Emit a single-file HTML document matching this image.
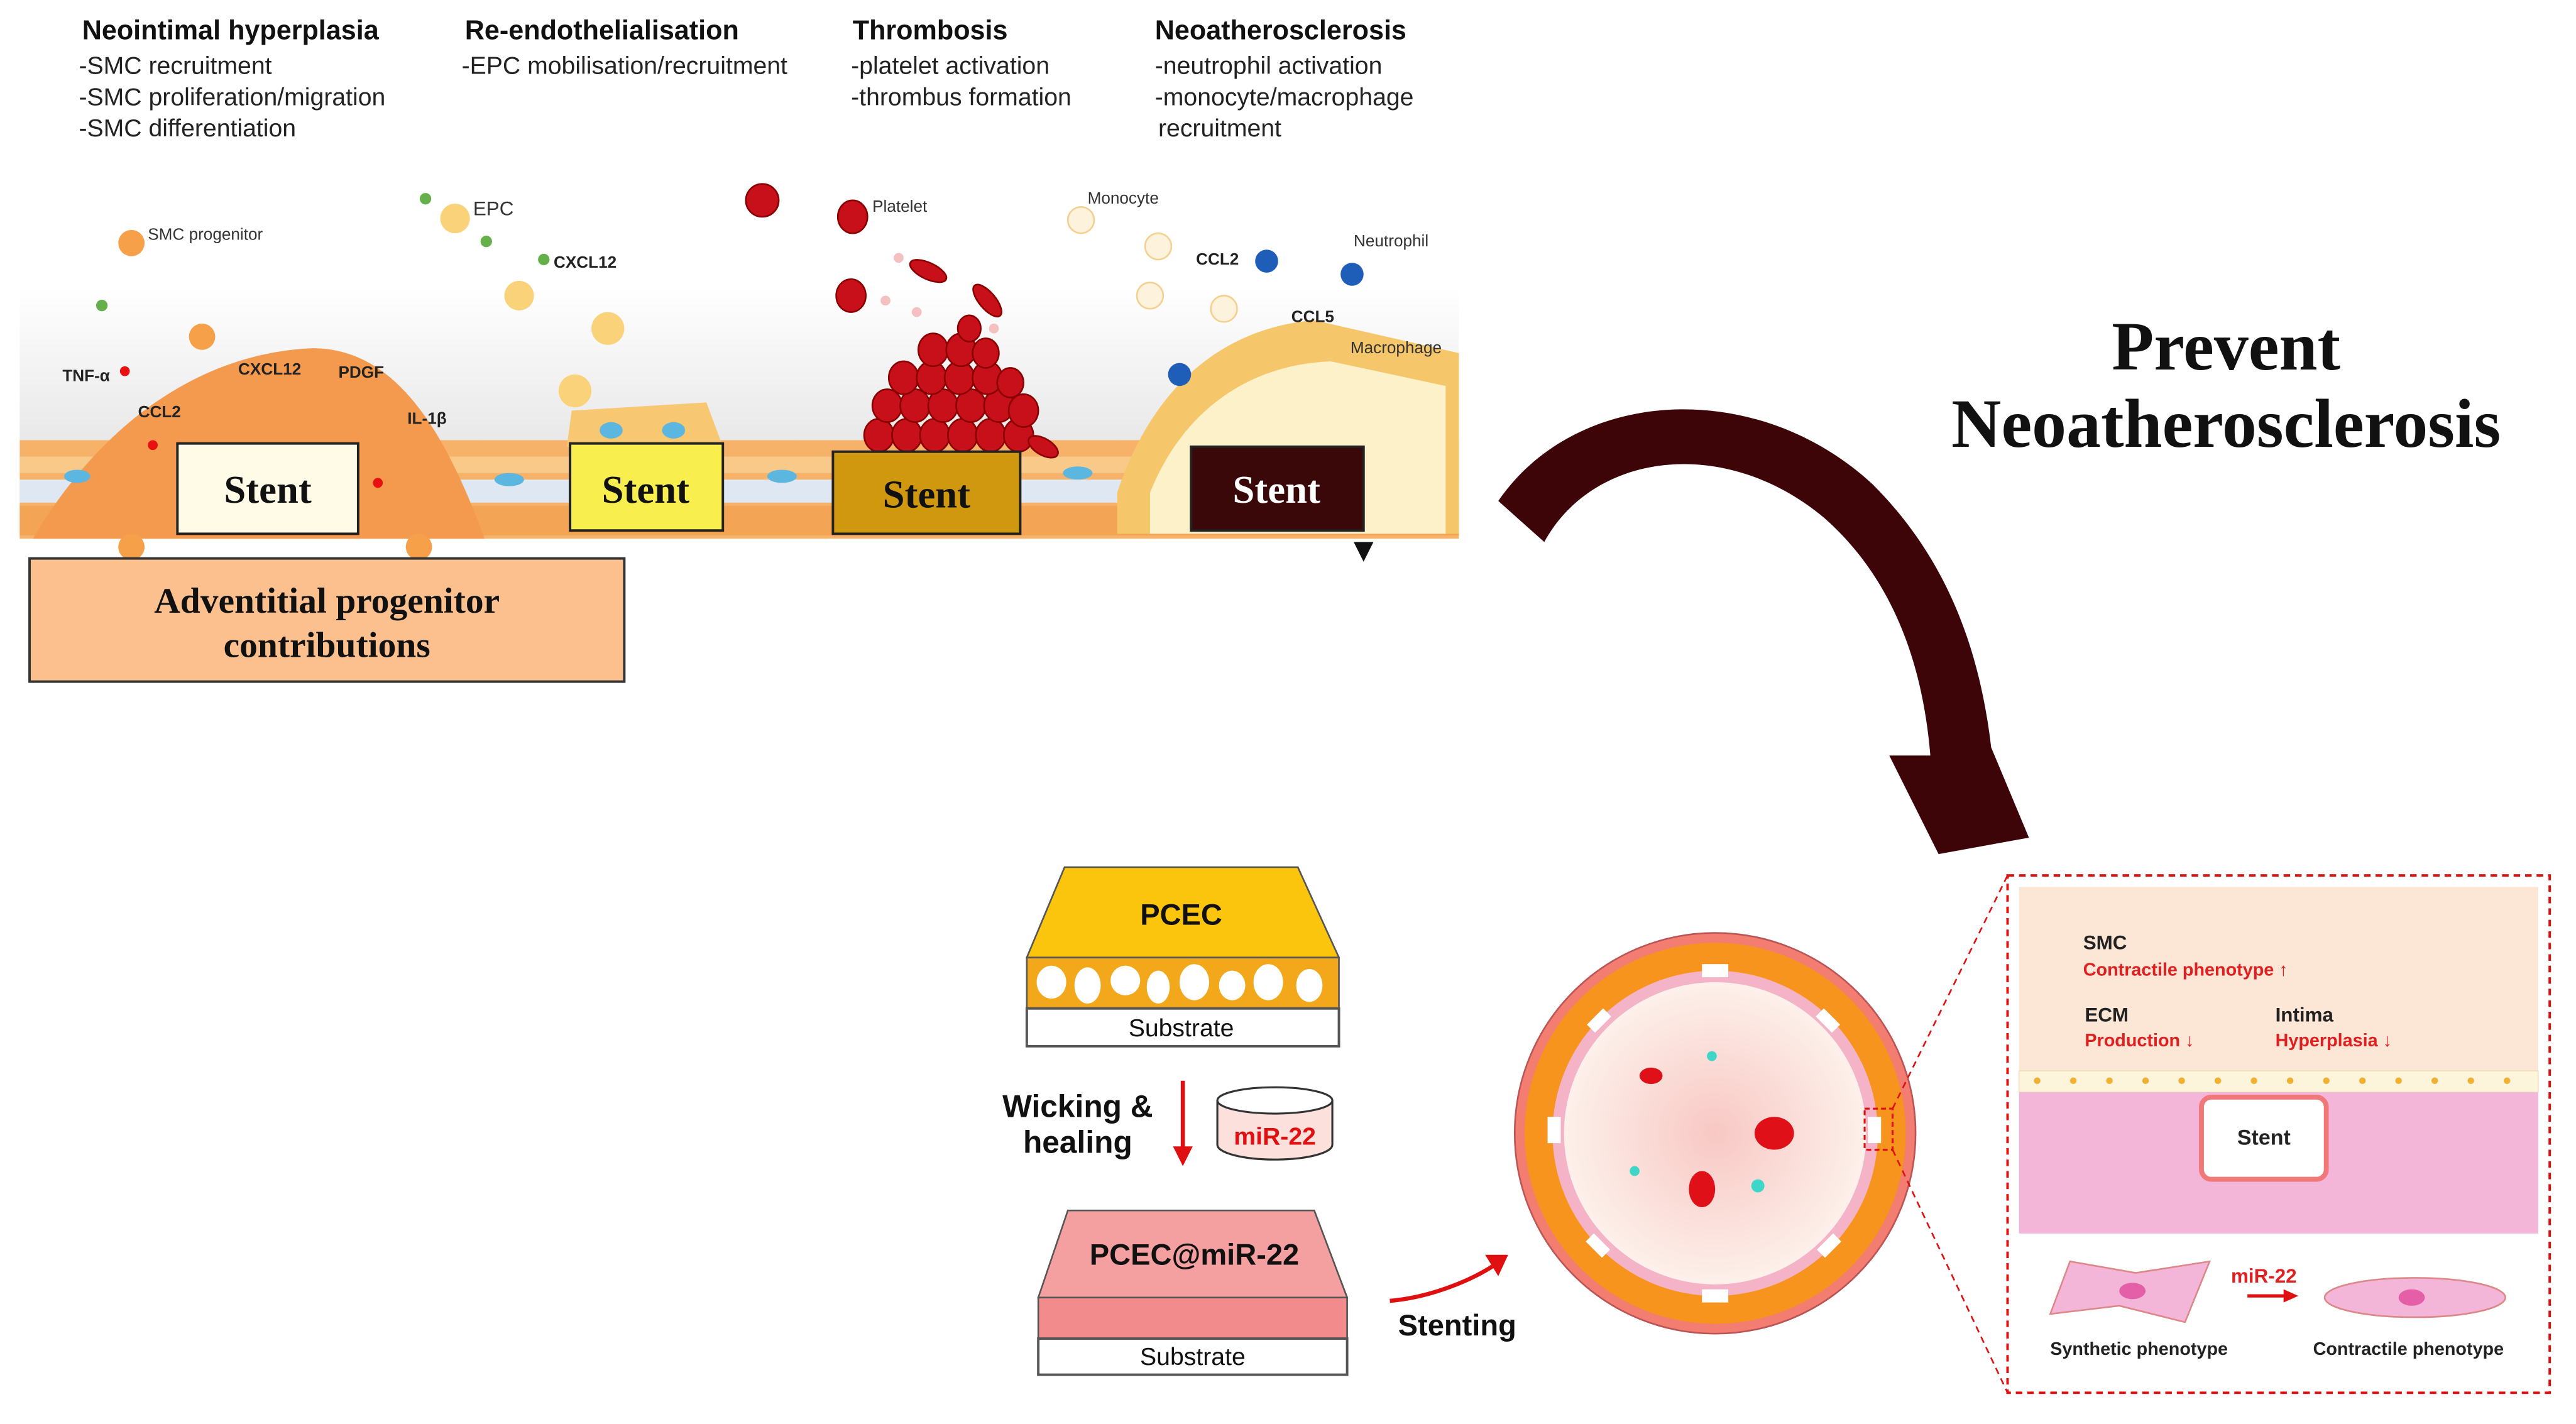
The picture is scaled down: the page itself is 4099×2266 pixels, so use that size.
<!DOCTYPE html>
<html><head><meta charset="utf-8"><style>
html,body{margin:0;padding:0;background:#fff}
svg{display:block}
.h{font-family:"Liberation Sans",sans-serif;font-weight:bold;font-size:16.5px;fill:#111}
.s{font-family:"Liberation Sans",sans-serif;font-size:15px;fill:#222}
.t{font-family:"Liberation Sans",sans-serif;font-size:10px;fill:#333}
.tb{font-family:"Liberation Sans",sans-serif;font-size:10px;font-weight:bold;fill:#222}
.st{font-family:"Liberation Serif",serif;font-weight:bold;font-size:24px}
.r{font-family:"Liberation Sans",sans-serif;font-weight:bold;font-size:11px;fill:#e02020}
.k{font-family:"Liberation Sans",sans-serif;font-weight:bold;font-size:11px;fill:#222}
</style></head><body>
<svg width="4099" height="2266" viewBox="0 0 1568 867" preserveAspectRatio="none" xmlns="http://www.w3.org/2000/svg">
<defs>
<linearGradient id="bg" x1="0" y1="0" x2="0" y2="1"><stop offset="0" stop-color="#fff"/><stop offset="1" stop-color="#e8e8e8"/></linearGradient>
<radialGradient id="lum" cx="0.5" cy="0.5" r="0.5"><stop offset="0" stop-color="#f8c8c4"/><stop offset="1" stop-color="#fdf0ea"/></radialGradient>
</defs>
<rect width="1568" height="867" fill="#fff"/>
<text class="h" x="50" y="24">Neointimal hyperplasia</text>
<text class="s" x="48" y="45">-SMC recruitment</text>
<text class="s" x="48" y="64">-SMC proliferation/migration</text>
<text class="s" x="48" y="83">-SMC differentiation</text>
<text class="h" x="283" y="24">Re-endothelialisation</text>
<text class="s" x="281" y="45">-EPC mobilisation/recruitment</text>
<text class="h" x="519" y="24">Thrombosis</text>
<text class="s" x="518" y="45">-platelet activation</text>
<text class="s" x="518" y="64">-thrombus formation</text>
<text class="h" x="703" y="24">Neoatherosclerosis</text>
<text class="s" x="703" y="45">-neutrophil activation</text>
<text class="s" x="703" y="64">-monocyte/macrophage</text>
<text class="s" x="705" y="83">recruitment</text>
<rect x="12" y="175" width="876" height="95" fill="url(#bg)"/>
<rect x="12" y="268" width="876" height="60" fill="#f7b26a"/>
<rect x="12" y="278" width="876" height="10" fill="#f9c98a"/>
<rect x="12" y="292" width="876" height="14" fill="#dfe8f2"/>
<rect x="12" y="308" width="876" height="18" fill="#f4a455"/>
<path d="M20 328 C60 260 120 215 190 212 C240 212 270 260 295 328 Z" fill="#f49a4f"/>
<path d="M345 272 L348 250 L430 245 L440 272 Z" fill="#f8c772"/>
<path d="M680 300 C700 240 740 200 800 195 L888 215 L888 325 L680 325 Z" fill="#f6c66a"/>
<path d="M700 300 C720 250 760 222 810 220 L880 235 L880 325 L700 325 Z" fill="#fcf1c8"/>
<g fill="#c8101a" stroke="#8a0000" stroke-width="1">
<ellipse cx="535" cy="265" rx="9" ry="10"/><ellipse cx="552" cy="265" rx="9" ry="10"/><ellipse cx="569" cy="265" rx="9" ry="10"/><ellipse cx="586" cy="265" rx="9" ry="10"/><ellipse cx="603" cy="265" rx="9" ry="10"/><ellipse cx="620" cy="265" rx="9" ry="10"/><ellipse cx="635" cy="272" rx="10" ry="5" transform="rotate(30 635 272)"/>
<ellipse cx="540" cy="247" rx="9" ry="10"/><ellipse cx="557" cy="247" rx="9" ry="10"/><ellipse cx="574" cy="247" rx="9" ry="10"/><ellipse cx="591" cy="247" rx="9" ry="10"/><ellipse cx="608" cy="247" rx="9" ry="10"/><ellipse cx="623" cy="250" rx="9" ry="10"/>
<ellipse cx="550" cy="230" rx="9" ry="10"/><ellipse cx="567" cy="230" rx="9" ry="10"/><ellipse cx="584" cy="230" rx="9" ry="10"/><ellipse cx="601" cy="230" rx="9" ry="10"/><ellipse cx="615" cy="233" rx="8" ry="9"/>
<ellipse cx="568" cy="213" rx="9" ry="10"/><ellipse cx="585" cy="213" rx="9" ry="10"/><ellipse cx="600" cy="215" rx="8" ry="9"/>
<ellipse cx="590" cy="200" rx="7" ry="8"/>
<ellipse cx="519" cy="132" rx="9" ry="10"/><ellipse cx="464" cy="122" rx="10" ry="10"/>
<ellipse cx="518" cy="180" rx="9" ry="10"/><ellipse cx="565" cy="165" rx="12" ry="5" transform="rotate(25 565 165)"/>
<ellipse cx="601" cy="183" rx="12" ry="5" transform="rotate(50 601 183)"/>
</g>
<g fill="#f4c0c0"><circle cx="547" cy="157" r="3"/><circle cx="539" cy="183" r="3"/><circle cx="558" cy="190" r="3"/><circle cx="605" cy="200" r="3"/></g>
<g fill="#f6a04a"><circle cx="80" cy="148" r="8"/><circle cx="123" cy="205" r="8"/><circle cx="80" cy="333" r="8"/><circle cx="255" cy="333" r="8"/></g>
<g fill="#f9d27a"><circle cx="277" cy="133" r="9"/><circle cx="316" cy="180" r="9"/><circle cx="370" cy="200" r="10"/><circle cx="350" cy="238" r="10"/></g>
<g fill="#65b04a"><circle cx="259" cy="121" r="3.5"/><circle cx="296" cy="147" r="3.5"/><circle cx="331" cy="158" r="3.5"/><circle cx="62" cy="186" r="3.5"/></g>
<g fill="#fdf3dc" stroke="#f4d090"><circle cx="658" cy="134" r="8"/><circle cx="705" cy="150" r="8"/><circle cx="700" cy="180" r="8"/><circle cx="745" cy="188" r="8"/></g>
<g fill="#1f5eb8"><circle cx="771" cy="159" r="7"/><circle cx="823" cy="167" r="7"/><circle cx="718" cy="228" r="7"/></g>
<g fill="#e81010"><circle cx="76" cy="226" r="3"/><circle cx="93" cy="271" r="3"/><circle cx="230" cy="294" r="3"/></g>
<g fill="#5bb7e0"><ellipse cx="47" cy="290" rx="8" ry="4"/><ellipse cx="310" cy="292" rx="9" ry="4"/><ellipse cx="476" cy="290" rx="9" ry="4"/><ellipse cx="656" cy="288" rx="9" ry="4"/><ellipse cx="372" cy="262" rx="7" ry="5"/><ellipse cx="410" cy="262" rx="7" ry="5"/></g>
<text class="t" x="90" y="146">SMC progenitor</text>
<text class="t" x="288" y="131" style="font-size:12px">EPC</text>
<text class="tb" x="337" y="163">CXCL12</text>
<text class="tb" x="38" y="232">TNF-α</text>
<text class="tb" x="145" y="228">CXCL12</text>
<text class="tb" x="206" y="230">PDGF</text>
<text class="tb" x="84" y="254">CCL2</text>
<text class="tb" x="248" y="258">IL-1β</text>
<text class="t" x="531" y="129">Platelet</text>
<text class="t" x="662" y="124">Monocyte</text>
<text class="tb" x="728" y="161">CCL2</text>
<text class="t" x="824" y="150">Neutrophil</text>
<text class="tb" x="786" y="196">CCL5</text>
<text class="t" x="822" y="215">Macrophage</text>
<rect x="108" y="270" width="110" height="55" fill="#fffbe6" stroke="#222" stroke-width="1.5"/>
<text class="st" x="163" y="306" text-anchor="middle" fill="#111">Stent</text>
<rect x="347" y="270" width="93" height="53" fill="#f8ef4e" stroke="#222" stroke-width="1.5"/>
<text class="st" x="393" y="306" text-anchor="middle" fill="#111">Stent</text>
<rect x="507" y="275" width="114" height="50" fill="#cf980e" stroke="#222" stroke-width="1.5"/>
<text class="st" x="564" y="309" text-anchor="middle" fill="#111">Stent</text>
<rect x="725" y="272" width="105" height="51" fill="#3a0808" stroke="#222" stroke-width="1.5"/>
<text class="st" x="777" y="306" text-anchor="middle" fill="#fff">Stent</text>
<path d="M824 330 L836 330 L830 342 Z" fill="#111"/>
<rect x="18" y="340" width="362" height="75" fill="#fbc08d" stroke="#333" stroke-width="1.5"/>
<text class="st" x="199" y="373" text-anchor="middle" fill="#111" style="font-size:22px">Adventitial progenitor</text>
<text class="st" x="199" y="400" text-anchor="middle" fill="#111" style="font-size:22px">contributions</text>
<text x="1355" y="225" text-anchor="middle" style="font-family:'Liberation Serif',serif;font-weight:bold;font-size:42px" fill="#111">Prevent</text>
<text x="1355" y="272" text-anchor="middle" style="font-family:'Liberation Serif',serif;font-weight:bold;font-size:42px" fill="#111">Neoatherosclerosis</text>
<path d="M912 305 C960 235 1070 230 1140 295 C1185 340 1205 395 1212 455 L1235 510 L1180 520 L1150 460 L1175 460 C1170 400 1150 350 1110 315 C1050 265 970 275 940 330 Z" fill="#3d0507"/>
<path d="M648 528 L790 528 L815 583 L625 583 Z" fill="#fbc40d" stroke="#555" stroke-width="1"/>
<text x="719" y="563" text-anchor="middle" class="h" style="font-size:18px">PCEC</text>
<rect x="625" y="583" width="190" height="31" fill="#f2a81a" stroke="#555" stroke-width="1"/>
<g fill="#fff"><ellipse cx="640" cy="598" rx="9" ry="10"/><ellipse cx="662" cy="600" rx="8" ry="11"/><ellipse cx="685" cy="597" rx="9" ry="9"/><ellipse cx="705" cy="601" rx="7" ry="10"/><ellipse cx="727" cy="598" rx="9" ry="11"/><ellipse cx="750" cy="600" rx="8" ry="9"/><ellipse cx="772" cy="598" rx="9" ry="11"/><ellipse cx="797" cy="600" rx="8" ry="10"/></g>
<rect x="625" y="614" width="190" height="23" fill="#fff" stroke="#555" stroke-width="1.5"/>
<text x="719" y="631" text-anchor="middle" class="s" style="font-size:15px;fill:#111">Substrate</text>
<text x="656" y="680" text-anchor="middle" class="h" style="font-size:19px">Wicking &amp;</text>
<text x="656" y="702" text-anchor="middle" class="h" style="font-size:19px">healing</text>
<line x1="720" y1="658" x2="720" y2="700" stroke="#e01010" stroke-width="2.5"/>
<path d="M714 698 L726 698 L720 710 Z" fill="#e01010"/>
<path d="M741 670 L741 697 A35 9 0 0 0 811 697 L811 670" fill="#fce0dc" stroke="#333" stroke-width="1.2"/>
<ellipse cx="776" cy="670" rx="35" ry="8" fill="#fff" stroke="#333" stroke-width="1.2"/>
<text x="776" y="697" text-anchor="middle" class="h" style="font-size:15px;fill:#e01010">miR-22</text>
<path d="M650 737 L800 737 L820 790 L632 790 Z" fill="#f5a0a0" stroke="#555" stroke-width="1"/>
<text x="727" y="770" text-anchor="middle" class="h" style="font-size:18px">PCEC@miR-22</text>
<rect x="632" y="790" width="188" height="25" fill="#f28c8c" stroke="#555" stroke-width="1"/>
<rect x="632" y="815" width="188" height="22" fill="#fff" stroke="#555" stroke-width="1.5"/>
<text x="726" y="831" text-anchor="middle" class="s" style="font-size:15px;fill:#111">Substrate</text>
<path d="M846 792 C870 790 895 780 910 770" fill="none" stroke="#e01010" stroke-width="2.5"/>
<path d="M904 764 L918 764 L912 777 Z" fill="#e01010"/>
<text x="887" y="813" text-anchor="middle" class="h" style="font-size:18px">Stenting</text>
<circle cx="1044" cy="690" r="122" fill="#f27d70" stroke="#b55" stroke-width="1"/>
<circle cx="1044" cy="690" r="116" fill="#f7941d"/>
<circle cx="1044" cy="690" r="99" fill="#f5b3c8"/>
<circle cx="1044" cy="690" r="92" fill="url(#lum)"/>
<g fill="#fff"><rect x="1036" y="587" width="16" height="8"/><rect x="1036" y="785" width="16" height="8"/><rect x="942" y="680" width="8" height="16"/><rect x="1137" y="680" width="8" height="16"/>
<rect x="966" y="618" width="14" height="7" transform="rotate(-45 973 621)"/><rect x="1106" y="618" width="14" height="7" transform="rotate(45 1113 621)"/><rect x="966" y="755" width="14" height="7" transform="rotate(45 973 758)"/><rect x="1106" y="755" width="14" height="7" transform="rotate(-45 1113 758)"/></g>
<g fill="#e01018"><ellipse cx="1005" cy="655" rx="7" ry="5"/><ellipse cx="1080" cy="690" rx="12" ry="10"/><ellipse cx="1036" cy="724" rx="8" ry="11"/></g>
<g fill="#3dd6c8"><circle cx="1042" cy="643" r="3"/><circle cx="995" cy="713" r="3"/><circle cx="1070" cy="722" r="4"/></g>
<rect x="1135" y="675" width="17" height="25" fill="none" stroke="#e01010" stroke-width="1.2" stroke-dasharray="3,2"/>
<line x1="1152" y1="675" x2="1222" y2="533" stroke="#e01010" stroke-width="1" stroke-dasharray="4,3"/>
<line x1="1152" y1="700" x2="1222" y2="848" stroke="#e01010" stroke-width="1" stroke-dasharray="4,3"/>
<rect x="1222" y="533" width="330" height="315" fill="#fff" stroke="#e01010" stroke-width="1.5" stroke-dasharray="4,3"/>
<rect x="1229" y="540" width="316" height="112" fill="#fce6d6"/>
<rect x="1229" y="652" width="316" height="13" fill="#fdf4dc" stroke="#f0d8b0" stroke-width="0.5"/>
<g fill="#f0b030"><circle cx="1240" cy="658" r="2"/><circle cx="1262" cy="658" r="2"/><circle cx="1284" cy="658" r="2"/><circle cx="1306" cy="658" r="2"/><circle cx="1328" cy="658" r="2"/><circle cx="1350" cy="658" r="2"/><circle cx="1372" cy="658" r="2"/><circle cx="1394" cy="658" r="2"/><circle cx="1416" cy="658" r="2"/><circle cx="1438" cy="658" r="2"/><circle cx="1460" cy="658" r="2"/><circle cx="1482" cy="658" r="2"/><circle cx="1504" cy="658" r="2"/><circle cx="1526" cy="658" r="2"/></g>
<rect x="1229" y="665" width="316" height="86" fill="#f3b6d8"/>
<rect x="1340" y="668" width="76" height="50" rx="6" fill="#fff" stroke="#f07878" stroke-width="3"/>
<text x="1378" y="697" text-anchor="middle" class="k" style="font-size:13px">Stent</text>
<text class="k" x="1268" y="578" style="font-size:12px">SMC</text>
<text class="r" x="1268" y="594">Contractile phenotype ↑</text>
<text class="k" x="1269" y="622" style="font-size:12px">ECM</text>
<text class="r" x="1269" y="637">Production ↓</text>
<text class="k" x="1385" y="622" style="font-size:12px">Intima</text>
<text class="r" x="1385" y="637">Hyperplasia ↓</text>
<path d="M1260 768 L1300 775 L1345 768 L1330 805 L1290 795 L1248 800 Z" fill="#f3b6d8" stroke="#d88" stroke-width="1"/>
<ellipse cx="1298" cy="786" rx="8" ry="5" fill="#e55fa8"/>
<ellipse cx="1470" cy="790" rx="55" ry="12" fill="#f3b6d8" stroke="#d88" stroke-width="1"/>
<ellipse cx="1468" cy="790" rx="8" ry="5" fill="#e55fa8"/>
<text class="r" x="1358" y="781" style="font-size:12px">miR-22</text>
<line x1="1368" y1="789" x2="1392" y2="789" stroke="#e01010" stroke-width="2"/>
<path d="M1390 785 L1399 789 L1390 793 Z" fill="#e01010"/>
<text class="k" x="1302" y="825" text-anchor="middle" style="font-size:11px">Synthetic phenotype</text>
<text class="k" x="1466" y="825" text-anchor="middle" style="font-size:11px">Contractile phenotype</text>
</svg>
</body></html>
